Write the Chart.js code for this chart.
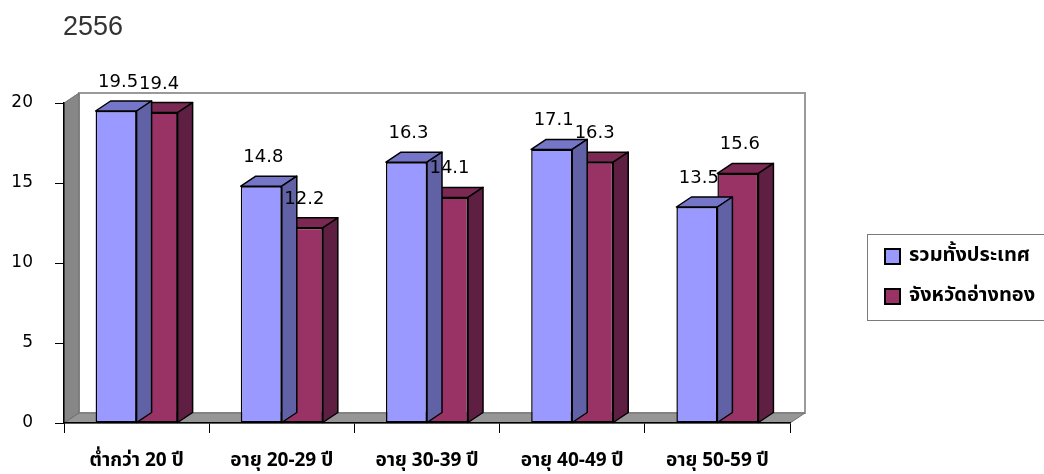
<!DOCTYPE html>
<html>
<head>
<meta charset="utf-8">
<title>2556</title>
<script src="https://cdn.jsdelivr.net/npm/chart.js@4"></script>
<style>
  html, body { margin: 0; padding: 0; background: #fff; }
  #wrap { width: 1044px; height: 474px; position: relative; }
</style>
</head>
<body>
<div id="wrap"><canvas id="ageChart" width="1044" height="474"></canvas></div>
<script>
// age groups and the two series
const categories = ['ต่ำกว่า 20 ปี', 'อายุ 20-29 ปี', 'อายุ 30-39 ปี', 'อายุ 40-49 ปี', 'อายุ 50-59 ปี'];
const seriesNames = ['รวมทั้งประเทศ', 'จังหวัดอ่างทอง'];
const wholeCountry = [19.5, 14.8, 16.3, 17.1, 13.5];
const angThong = [19.4, 12.2, 14.1, 16.3, 15.6];
const yTicks = [0, 5, 10, 15, 20];
const titleText = '2556';

const thaiFont = "Tahoma, 'Noto Sans Thai', 'Noto Sans', 'DejaVu Sans', sans-serif";
const numFont = "'DejaVu Sans', Verdana, sans-serif";
const DX = 15, DY = 10; // depth of the 3d boxes

function fillPoly(ctx, pts, fill, stroke, lw) {
  ctx.beginPath();
  ctx.moveTo(pts[0][0], pts[0][1]);
  for (let i = 1; i < pts.length; i++) ctx.lineTo(pts[i][0], pts[i][1]);
  ctx.closePath();
  if (fill) { ctx.fillStyle = fill; ctx.fill(); }
  if (stroke) { ctx.strokeStyle = stroke; ctx.lineWidth = lw || 1; ctx.lineJoin = 'round'; ctx.stroke(); }
}

const box3d = {
  id: 'box3d',
  beforeDraw(chart) {
    const { ctx, chartArea: a } = chart;
    ctx.save();
    // back wall
    ctx.fillStyle = '#fff';
    ctx.fillRect(a.left + DX, a.top - DY, a.right - a.left, a.bottom - a.top);
    ctx.strokeStyle = '#9a9a9a';
    ctx.lineWidth = 2;
    ctx.strokeRect(a.left + DX, a.top - DY, a.right - a.left, a.bottom - a.top);
    // left wall
    fillPoly(ctx, [[a.left, a.bottom], [a.left, a.top], [a.left + DX, a.top - DY], [a.left + DX, a.bottom - DY]], '#878787', '#6f6f6f', 1);
    // floor
    fillPoly(ctx, [[a.left, a.bottom], [a.left + DX, a.bottom - DY], [a.right + DX, a.bottom - DY], [a.right, a.bottom]], '#969696', '#6f6f6f', 1);

    // title, cut at the top like the original layout
    ctx.fillStyle = '#333';
    ctx.font = "27px 'Liberation Sans', Arial, sans-serif";
    ctx.textBaseline = 'alphabetic';
    ctx.textAlign = 'left';
    ctx.fillText(titleText, 63, 35);
    ctx.restore();
  },
  afterDatasetDraw(chart, args) {
    const ds = chart.data.datasets[args.index];
    const meta = args.meta;
    const ctx = chart.ctx;
    ctx.save();
    meta.data.forEach(bar => {
      const p = bar.getProps(['x', 'y', 'base', 'width'], true);
      const l = p.x - p.width / 2, r = p.x + p.width / 2;
      fillPoly(ctx, [[l, p.y], [l + DX, p.y - DY], [r + DX, p.y - DY], [r, p.y]], ds.topColor, '#000', 1.5);
      fillPoly(ctx, [[r, p.y], [r + DX, p.y - DY], [r + DX, p.base - DY], [r, p.base]], ds.sideColor, '#000', 1.5);
    });
    ctx.restore();
  },
  afterDatasetsDraw(chart) {
    const ctx = chart.ctx;
    ctx.save();
    ctx.fillStyle = '#000';
    ctx.font = '18px ' + numFont;
    ctx.textAlign = 'center';
    ctx.textBaseline = 'alphabetic';
    chart.data.datasets.forEach((ds, i) => {
      chart.getDatasetMeta(i).data.forEach((bar, j) => {
        ctx.fillText(ds.data[j].toFixed(1), bar.x + 2, bar.y - 24);
      });
    });
    ctx.restore();
  },
  afterDraw(chart) {
    // boxed legend on the right
    const ctx = chart.ctx;
    ctx.save();
    ctx.strokeStyle = '#7a7a7a';
    ctx.lineWidth = 1;
    ctx.strokeRect(867.5, 234.5, 200, 86);
    ctx.font = 'bold 20px ' + thaiFont;
    ctx.textBaseline = 'middle';
    ctx.textAlign = 'left';
    chart.data.datasets.forEach((ds, i) => {
      const cy = 257 + i * 40;
      ctx.fillStyle = ds.backgroundColor;
      ctx.fillRect(885, cy - 8, 15, 15);
      ctx.strokeStyle = '#000';
      ctx.lineWidth = 2;
      ctx.strokeRect(885, cy - 8, 15, 15);
      ctx.fillStyle = '#000';
      ctx.fillText(ds.label, 909, cy);
    });
    ctx.restore();
  }
};

new Chart(document.getElementById('ageChart'), {
  type: 'bar',
  data: {
    labels: categories,
    datasets: [
      {
        label: seriesNames[0],
        data: wholeCountry,
        backgroundColor: '#9999ff',
        topColor: '#7676c8',
        sideColor: '#6161a6',
        borderColor: '#000',
        borderWidth: 1.5,
        borderSkipped: false
      },
      {
        label: seriesNames[1],
        data: angThong,
        backgroundColor: '#993366',
        topColor: '#7b2952',
        sideColor: '#5f1f42',
        borderColor: '#000',
        borderWidth: 1.5,
        borderSkipped: false
      }
    ]
  },
  options: {
    responsive: false,
    animation: false,
    categoryPercentage: 0.565,
    barPercentage: 1.0,
    layout: { padding: { top: 103, right: 254, left: 0, bottom: 0 } },
    plugins: {
      legend: { display: false },
      tooltip: { enabled: false },
      title: { display: false }
    },
    scales: {
      x: {
        grid: { drawOnChartArea: false, tickLength: 10, color: '#000', lineWidth: 1 },
        border: { color: '#000', width: 1.5 },
        ticks: {
          color: '#000',
          padding: 18,
          font: { family: thaiFont, size: 19, weight: 'bold' }
        },
        afterFit(scale) { scale.height = 51; }
      },
      y: {
        min: 0,
        max: 20,
        afterBuildTicks(scale) { scale.ticks = yTicks.map(v => ({ value: v })); },
        grid: { drawOnChartArea: false, tickLength: 9, color: '#000', lineWidth: 1 },
        border: { color: '#000', width: 1.5 },
        ticks: {
          color: '#000',
          padding: 22,
          font: { family: numFont, size: 17 }
        },
        afterFit(scale) { scale.width = 64; }
      }
    }
  },
  plugins: [box3d]
});
</script>
</body>
</html>
